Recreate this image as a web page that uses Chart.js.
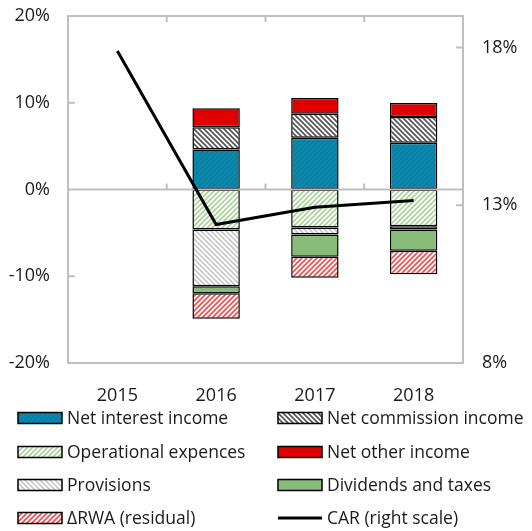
<!DOCTYPE html>
<html><head><meta charset="utf-8">
<script src="https://cdn.jsdelivr.net/npm/chart.js@4"></script>
<style>html,body{margin:0;padding:0;background:#fff}canvas{display:block}</style>
</head><body>
<canvas id="c" width="532" height="531"></canvas>
<script>
const categories = ['2015', '2016', '2017', '2018'];
const netInterestIncome   = [null, 4.62, 5.97, 5.39];
const netCommissionIncome = [null, 2.55, 2.77, 2.97];
const operationalExpences = [null, -4.62, -4.39, -4.24];
const netOtherIncome      = [null, 2.19, 1.81, 1.62];
const provisions          = [null, -6.52, -0.81, -0.38];
const dividendsAndTaxes   = [null, -0.81, -2.55, -2.43];
const rwaResidual         = [null, -2.96, -2.43, -2.71];
const carRightScale       = [17.89, 12.39, 12.94, 13.15];
const leftTicks  = [-20, -10, 0, 10, 20];
const rightTicks = [8, 13, 18];
const seriesLabels = ['Net interest income', 'Net commission income', 'Operational expences',
  'Net other income', 'Provisions', 'Dividends and taxes', '\u0394RWA (residual)', 'CAR (right scale)'];

const FONT = '"Open Sans", "Noto Sans", sans-serif';
const GRAY = '#BFBFBF';

function stripes(bg, fg, dir, size, lw) {
  size = size || 5; lw = lw || 1.6;
  const c = document.createElement('canvas'); c.width = c.height = size;
  const x = c.getContext('2d');
  x.fillStyle = bg; x.fillRect(0, 0, size, size);
  x.strokeStyle = fg; x.lineWidth = lw; x.lineCap = 'square';
  x.beginPath();
  if (dir === '/') {
    x.moveTo(-1, size + 1); x.lineTo(size + 1, -1);
    x.moveTo(-1, 1); x.lineTo(1, -1);
    x.moveTo(size - 1, size + 1); x.lineTo(size + 1, size - 1);
  } else {
    x.moveTo(-1, -1); x.lineTo(size + 1, size + 1);
    x.moveTo(size - 1, -1); x.lineTo(size + 1, 1);
    x.moveTo(-1, size - 1); x.lineTo(1, size + 1);
  }
  x.stroke();
  return x.createPattern(c, 'repeat');
}

const fills = [
  stripes('#0C87AE', '#0A7CA0', '/', 5, 1.2),
  stripes('#FFFFFF', '#555555', '\\', 5, 1.7),
  stripes('#FFFFFF', '#A9D39A', '/', 5, 1.6),
  '#E00000',
  stripes('#FFFFFF', '#C8C8C8', '\\', 5, 1.7),
  '#88BC78',
  stripes('#FFFFFF', '#F05050', '/', 5, 1.7)
];
const barSeries = [netInterestIncome, netCommissionIncome, operationalExpences, netOtherIncome,
  provisions, dividendsAndTaxes, rwaResidual];

const datasets = barSeries.map((vals, i) => ({
  type: 'bar', label: seriesLabels[i], data: vals, yAxisID: 'y',
  backgroundColor: fills[i], borderColor: '#000', borderWidth: 1.5, borderSkipped: false,
  categoryPercentage: 1, barPercentage: 0.48, order: 1
}));
datasets.push({
  type: 'line', label: seriesLabels[7], data: carRightScale, yAxisID: 'y1',
  borderColor: '#000', borderWidth: 3, pointRadius: 0, tension: 0, fill: false, order: 0,
  borderJoinStyle: 'miter'
});

const decor = {
  id: 'decor',
  beforeDatasetsDraw(chart) {
    const { ctx, chartArea: a } = chart;
    ctx.save();
    ctx.strokeStyle = GRAY; ctx.lineWidth = 2;
    ctx.strokeRect(a.left, a.top, a.right - a.left, a.bottom - a.top);
    ctx.restore();
  },
  beforeDatasetDraw(chart, args) {
    if (args.meta.type !== 'line') return;
    const { ctx, chartArea: a, scales } = chart;
    const y0 = scales.y.getPixelForValue(0);
    ctx.save();
    ctx.strokeStyle = GRAY; ctx.lineWidth = 2;
    ctx.beginPath(); ctx.moveTo(a.left, y0); ctx.lineTo(a.right, y0);
    leftTicks.forEach(v => {
      if (v === 0 || v === leftTicks[0] || v === leftTicks[leftTicks.length - 1]) return;
      const y = scales.y.getPixelForValue(v);
      ctx.moveTo(a.left, y); ctx.lineTo(a.left + 7, y);
    });
    rightTicks.forEach(v => {
      if (v === rightTicks[0]) return;
      const y = scales.y1.getPixelForValue(v);
      ctx.moveTo(a.right, y); ctx.lineTo(a.right - 7, y);
    });
    for (let i = 1; i < categories.length; i++) {
      const x = (scales.x.getPixelForValue(i - 1) + scales.x.getPixelForValue(i)) / 2;
      ctx.moveTo(x, y0); ctx.lineTo(x, y0 - 6);
      ctx.moveTo(x, a.top); ctx.lineTo(x, a.top + 6);
    }
    ctx.stroke();
    ctx.restore();
  },
  afterDraw(chart) {
    const ctx = chart.ctx;
    const cols = [18, 278], rows = [418, 452, 485, 518];
    chart.data.datasets.forEach((d, i) => {
      const x = cols[i % 2], y = rows[Math.floor(i / 2)];
      ctx.save();
      if (d.type === 'line') {
        ctx.strokeStyle = '#000'; ctx.lineWidth = 3;
        ctx.beginPath(); ctx.moveTo(x, y); ctx.lineTo(x + 44, y); ctx.stroke();
      } else {
        ctx.fillStyle = d.backgroundColor; ctx.fillRect(x, y - 5.5, 44, 11);
        ctx.strokeStyle = '#000'; ctx.lineWidth = 1.5; ctx.strokeRect(x, y - 5.5, 44, 11);
      }
      ctx.fillStyle = '#1a1a1a'; ctx.font = '17.5px ' + FONT;
      ctx.textBaseline = 'middle'; ctx.textAlign = 'left';
      ctx.fillText(d.label, x + 49, y + 1);
      ctx.restore();
    });
  }
};

new Chart(document.getElementById('c'), {
  data: { labels: categories, datasets },
  options: {
    responsive: false, animation: false,
    layout: { padding: { top: 16, left: 0, right: 0, bottom: 128 } },
    plugins: { legend: { display: false }, tooltip: { enabled: false } },
    scales: {
      x: {
        stacked: true, grid: { display: false, drawTicks: false }, border: { display: false },
        ticks: { padding: 22, color: '#1a1a1a', font: { family: FONT, size: 18 } },
        afterFit(s) { s.height = 40; s.paddingLeft = 0; s.paddingRight = 0; }
      },
      y: {
        stacked: true, position: 'left', min: -20, max: 20,
        afterBuildTicks(s) { s.ticks = leftTicks.map(v => ({ value: v })); },
        grid: { display: false, drawTicks: false }, border: { display: false },
        ticks: { padding: 18, color: '#1a1a1a', font: { family: FONT, size: 18 }, callback: v => v + '%' },
        afterFit(s) { s.width = 68; s.paddingTop = 0; s.paddingBottom = 0; }
      },
      y1: {
        position: 'right', min: 8, max: 19,
        afterBuildTicks(s) { s.ticks = rightTicks.map(v => ({ value: v })); },
        grid: { display: false, drawTicks: false }, border: { display: false },
        ticks: { padding: 19, color: '#1a1a1a', font: { family: FONT, size: 18 }, callback: v => v + '%' },
        afterFit(s) { s.width = 69; s.paddingTop = 0; s.paddingBottom = 0; }
      }
    }
  },
  plugins: [decor]
});
</script>
</body></html>
